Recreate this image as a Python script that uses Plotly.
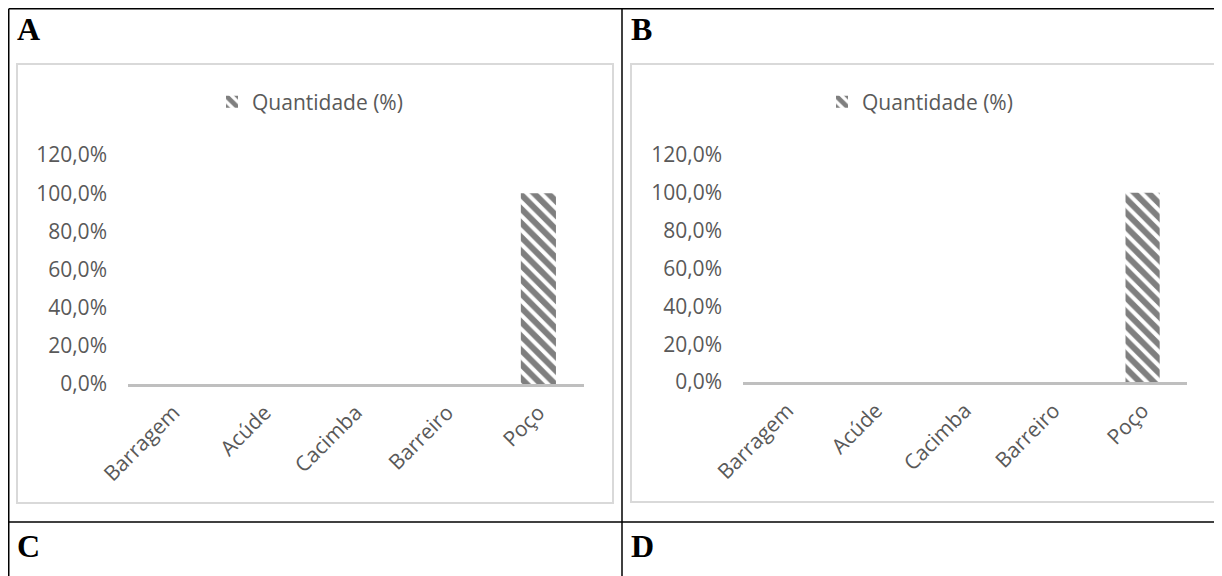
import plotly.graph_objects as go

# ---- data ----
categories = ["Barragem", "Acúde", "Cacimba", "Barreiro", "Poço"]
values_a = [0, 0, 0, 0, 100]
values_b = [0, 0, 0, 0, 100]
y_tickvals = [0, 20, 40, 60, 80, 100, 120]
y_ticktext = ["0,0%", "20,0%", "40,0%", "60,0%", "80,0%", "100,0%", "120,0%"]
series_name = "Quantidade (%)"
panel_labels = ["A", "B", "C", "D"]

W, H = 1222, 576
OFF = 8  # page body margin: the figure is drawn at (8, 8) in the window


def px(x):
    return (x - OFF) / W


def py(y):
    return 1 - (y - OFF) / H


GRAY_TXT = "#595959"
FONT = "Open Sans"
FS = 21

bar_marker = dict(
    color="white",
    pattern=dict(shape="\\", fgcolor="#000000", bgcolor="white", size=10, solidity=0.6),
    line=dict(width=0),
)

fig = go.Figure()
fig.add_trace(go.Bar(x=categories, y=values_a, name=series_name, xaxis="x", yaxis="y",
                     legend="legend", marker=bar_marker, showlegend=True))
fig.add_trace(go.Bar(x=categories, y=values_b, name=series_name, xaxis="x2", yaxis="y2",
                     legend="legend2", marker=bar_marker, showlegend=True))

xcommon = dict(type="category", showline=True, linecolor="#bfbfbf", linewidth=3,
               showgrid=False, zeroline=False, ticks="", tickangle=-45, automargin=False,
               tickfont=dict(family=FONT, size=FS, color=GRAY_TXT), ticklabelstandoff=5)
ycommon = dict(range=[0, 120], tickvals=y_tickvals, ticktext=y_ticktext, showgrid=False,
               zeroline=False, showline=False, ticks="", automargin=False,
               tickfont=dict(family=FONT, size=FS, color=GRAY_TXT), ticklabelstandoff=20)

fig.update_layout(
    width=W, height=H,
    margin=dict(l=0, r=0, t=0, b=0, pad=0, autoexpand=False),
    paper_bgcolor="white", plot_bgcolor="rgba(0,0,0,0)",
    bargap=0.615,
    xaxis=dict(domain=[px(128), px(584)], anchor="y", **xcommon),
    yaxis=dict(domain=[py(384), py(155)], anchor="x", **ycommon),
    xaxis2=dict(domain=[px(743), px(1187)], anchor="y2", **xcommon),
    yaxis2=dict(domain=[py(382), py(155)], anchor="x2", **ycommon),
    legend=dict(x=px(212), y=py(102), xanchor="left", yanchor="middle",
                font=dict(family=FONT, size=FS, color=GRAY_TXT), bgcolor="rgba(0,0,0,0)"),
    legend2=dict(x=px(822), y=py(102), xanchor="left", yanchor="middle",
                 font=dict(family=FONT, size=FS, color=GRAY_TXT), bgcolor="rgba(0,0,0,0)"),
)

shapes = []
# table borders (outer edges nudged inside the drawable area)
black = dict(color="black", width=1.5)
shapes.append(dict(type="line", xref="paper", yref="paper", x0=px(8.75), x1=1, y0=py(8.75), y1=py(8.75), line=black))
shapes.append(dict(type="line", xref="paper", yref="paper", x0=px(8.75), x1=px(8.75), y0=py(8.75), y1=0, line=black))
shapes.append(dict(type="line", xref="paper", yref="paper", x0=px(622), x1=px(622), y0=py(8.75), y1=0, line=black))
shapes.append(dict(type="line", xref="paper", yref="paper", x0=px(8.75), x1=1, y0=py(522), y1=py(522), line=black))
# chart frames
frame = dict(color="#d9d9d9", width=2)
shapes.append(dict(type="rect", xref="paper", yref="paper", x0=px(17), x1=px(613), y0=py(64), y1=py(503),
                   line=frame, layer="below"))
shapes.append(dict(type="rect", xref="paper", yref="paper", x0=px(631), x1=px(1216), y0=py(64), y1=py(502),
                   line=frame, layer="below"))
fig.update_layout(shapes=shapes)

label_pos = [(15, 29), (629, 29), (15, 546), (629, 546)]
for lab, (lx, ly) in zip(panel_labels, label_pos):
    fig.add_annotation(text="<b>%s</b>" % lab, xref="paper", yref="paper", x=px(lx), y=py(ly),
                       xanchor="left", yanchor="middle", showarrow=False,
                       font=dict(family="Liberation Serif", size=32, color="black"))

fig.write_html("out.html", config={"displayModeBar": False})
